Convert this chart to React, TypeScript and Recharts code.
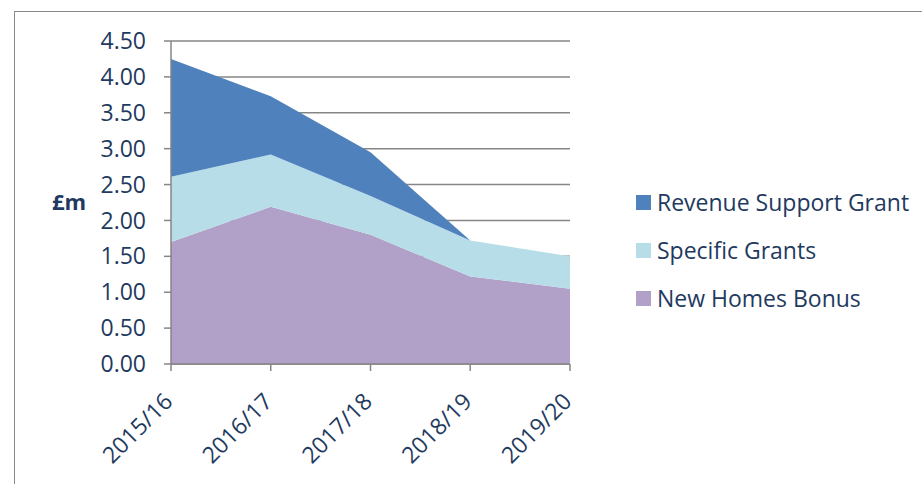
import { AreaChart, Area, XAxis, YAxis, CartesianGrid, Legend } from 'recharts';

const years = ['2015/16', '2016/17', '2017/18', '2018/19', '2019/20'];
const newHomesBonus = [1.70, 2.19, 1.80, 1.22, 1.05];
const specificGrants = [0.91, 0.73, 0.54, 0.50, 0.45];
const revenueSupportGrant = [1.64, 0.81, 0.61, 0, 0];
const yTicks = [0, 0.5, 1, 1.5, 2, 2.5, 3, 3.5, 4, 4.5];

const data = years.map((year, i) => ({
  year,
  nhb: newHomesBonus[i],
  sg: specificGrants[i],
  rsg: revenueSupportGrant[i],
}));

const FONT = '"Open Sans", sans-serif';
const TEXT = '#1F3A60';
const AXIS = '#868686';

const legendItems = [
  { label: 'Revenue Support Grant', color: '#4F81BD' },
  { label: 'Specific Grants', color: '#B7DEE8' },
  { label: 'New Homes Bonus', color: '#B1A0C7' },
];

function YearTick(props: any) {
  const { x, y, payload } = props;
  const ax = x + 3;
  const ay = y + 30;
  return (
    <text
      x={ax}
      y={ay}
      textAnchor="end"
      fill={TEXT}
      fontSize={23}
      fontFamily={FONT}
      transform={`rotate(-45 ${ax} ${ay})`}
    >
      {payload.value}
    </text>
  );
}

function LegendBox() {
  return (
    <div style={{ fontFamily: FONT, fontSize: 23, color: TEXT }}>
      {legendItems.map((item) => (
        <div key={item.label} style={{ display: 'flex', alignItems: 'center', height: 48 }}>
          <span style={{ width: 15, height: 15, background: item.color, marginRight: 6 }} />
          <span>{item.label}</span>
        </div>
      ))}
    </div>
  );
}

export default function App() {
  return (
    <div style={{ position: 'absolute', left: 0, top: 0, width: 922, height: 484, background: '#fff' }}>
      <div
        style={{
          position: 'absolute',
          left: 14,
          top: 11,
          width: 922,
          height: 484,
          borderLeft: '1.5px solid #8a8a8a',
          borderTop: '1.5px solid #8a8a8a',
        }}
      />
      <AreaChart
        width={922}
        height={484}
        data={data}
        margin={{ top: 41, right: 352, bottom: 20, left: 0 }}
        style={{ position: 'absolute', left: 0, top: 0 }}
      >
        <CartesianGrid vertical={false} stroke={AXIS} strokeWidth={1.5} />
        <XAxis
          dataKey="year"
          height={100}
          tick={<YearTick />}
          tickSize={7}
          stroke={AXIS}
          strokeWidth={1.5}
          interval={0}
        />
        <YAxis
          width={171}
          domain={[0, 4.5]}
          ticks={yTicks}
          interval={0}
          tickFormatter={(v: number) => v.toFixed(2)}
          tick={{ fill: TEXT, fontSize: 23, fontFamily: FONT }}
          tickSize={7}
          tickMargin={18}
          stroke={AXIS}
          strokeWidth={1.5}
          label={{ value: '£m', position: 'insideLeft', offset: 52, fill: TEXT, fontSize: 22, fontWeight: 700, fontFamily: FONT }}
        />
        <Area type="linear" dataKey="nhb" name="New Homes Bonus" stackId="1" stroke="none" fill="#B1A0C7" fillOpacity={1} isAnimationActive={false} />
        <Area type="linear" dataKey="sg" name="Specific Grants" stackId="1" stroke="none" fill="#B7DEE8" fillOpacity={1} isAnimationActive={false} />
        <Area type="linear" dataKey="rsg" name="Revenue Support Grant" stackId="1" stroke="none" fill="#4F81BD" fillOpacity={1} isAnimationActive={false} />
        <Legend
          layout="vertical"
          align="center"
          verticalAlign="middle"
          content={<LegendBox />}
          wrapperStyle={{ left: 636, top: 178, width: 290 }}
        />
      </AreaChart>
    </div>
  );
}
